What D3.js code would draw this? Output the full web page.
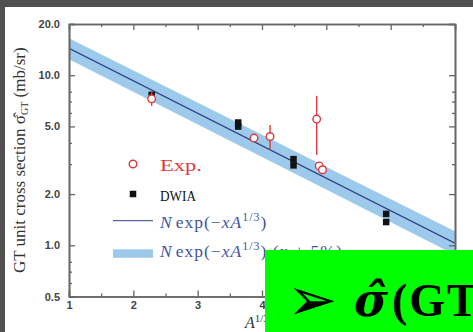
<!DOCTYPE html>
<html>
<head>
<meta charset="utf-8">
<script src="https://cdn.jsdelivr.net/npm/d3@7"></script>
<style>
  body { margin: 0; background: #fff; }
  svg { display: block; }
</style>
</head>
<body>
<div id="chart"></div>
<script>
// experimental points (A^1/3, sigma_GT mb/sr) with error bars
const expX  = [2.285, 3.876, 4.125, 4.85, 4.89, 4.94];
const expY  = [7.26, 4.27, 4.36, 5.52, 2.93, 2.78];
const expLo = [6.6, 4.15, 3.65, 3.4, 2.8, 2.7];
const expHi = [8.1, 4.4, 5.1, 7.56, 3.05, 2.85];

// DWIA points
const dwiaX = [2.285, 3.63, 3.63, 4.49, 4.49, 5.93, 5.93];
const dwiaY = [7.66, 5.27, 4.99, 3.21, 2.95, 1.53, 1.37];

// fit line N exp(-x A^1/3) and its band, read at the ends of the frame
const fitX    = [1, 7];
const fitY    = [14.4, 1.03];
const bandTop = [16.5, 1.21];
const bandBot = [12.4, 0.88];

const yTicks      = [0.5, 1, 2, 5, 10, 20];
const yMinorTicks = [0.6, 0.7, 0.8, 3, 4, 6, 7, 8];
const xTicks      = [1, 2, 3, 4, 5, 6, 7];
const xMinorTicks = [1.5, 2.5, 3.5, 4.5, 5.5, 6.5];

const width = 473, height = 332;
const margin = {top: 24, right: 18, bottom: 35.5, left: 69};

const svg = d3.select("#chart").append("svg")
    .attr("width", width)
    .attr("height", height)
    .attr("viewBox", [0, 0, width, height]);

// dark slide frame
svg.append("rect").attr("width", width).attr("height", height).attr("fill", "#505050");
svg.append("rect").attr("x", 5).attr("y", 7).attr("width", width - 5).attr("height", height - 7).attr("fill", "#fff");

const x = d3.scaleLinear()
    .domain([1, 7])
    .range([margin.left, width - margin.right]);

const y = d3.scaleLog()
    .domain([0.5, 20])
    .range([height - margin.bottom, margin.top]);

svg.append("clipPath").attr("id", "plot")
  .append("rect")
    .attr("x", margin.left).attr("y", margin.top)
    .attr("width", x(7) - x(1)).attr("height", y(0.5) - y(20));

const plot = svg.append("g").attr("clip-path", "url(#plot)");

// band
const bandData = fitX.map((d, i) => ({x: d, lo: bandBot[i], hi: bandTop[i]}));
plot.append("path")
    .datum(bandData)
    .attr("fill", "#9dcaea")
    .attr("d", d3.area().x(d => x(d.x)).y0(d => y(d.lo)).y1(d => y(d.hi)));

// fit line
plot.append("path")
    .datum(fitX.map((d, i) => ({x: d, y: fitY[i]})))
    .attr("fill", "none")
    .attr("stroke", "#2b3b85")
    .attr("stroke-width", 1.2)
    .attr("d", d3.line().x(d => x(d.x)).y(d => y(d.y)));

// DWIA squares
const sq = 6.5;
svg.append("g")
    .attr("fill", "#111")
  .selectAll("rect")
  .data(dwiaX.map((d, i) => ({x: d, y: dwiaY[i]})))
  .join("rect")
    .attr("x", d => x(d.x) - sq / 2)
    .attr("y", d => y(d.y) - sq / 2)
    .attr("width", sq)
    .attr("height", sq);

// experimental points
const expData = expX.map((d, i) => ({x: d, y: expY[i], lo: expLo[i], hi: expHi[i]}));
const expG = svg.append("g").attr("stroke", "#e0393b").attr("stroke-width", 1.4);
expG.selectAll("line")
  .data(expData)
  .join("line")
    .attr("x1", d => x(d.x)).attr("x2", d => x(d.x))
    .attr("y1", d => y(d.lo)).attr("y2", d => y(d.hi));
expG.selectAll("circle")
  .data(expData)
  .join("circle")
    .attr("cx", d => x(d.x))
    .attr("cy", d => y(d.y))
    .attr("r", 3.8)
    .attr("fill", "#fff");

// axes, ticks pointing inwards
const axisColor = "#666";
const tickFont = g => g.selectAll("text")
    .attr("fill", "#444")
    .style("font-family", "Liberation Sans, Arial, sans-serif")
    .style("font-weight", "bold")
    .style("font-size", "11px");

const styleAxis = g => {
  g.select(".domain").attr("stroke", axisColor).attr("stroke-width", 1.6);
  g.selectAll(".tick line").attr("stroke", axisColor).attr("stroke-width", 1.3);
};

svg.append("g")
    .attr("transform", `translate(${margin.left},0)`)
    .call(d3.axisLeft(y).tickValues(yTicks).tickFormat(d3.format(".1f")).tickSize(-6).tickPadding(9))
    .call(styleAxis).call(tickFont);
svg.append("g")
    .attr("transform", `translate(${margin.left},0)`)
    .call(d3.axisLeft(y).tickValues(yMinorTicks).tickFormat("").tickSize(-3).tickSizeOuter(0))
    .call(styleAxis);
svg.append("g")
    .attr("transform", `translate(${x(7)},0)`)
    .call(d3.axisRight(y).tickValues(yTicks).tickFormat("").tickSize(-6))
    .call(styleAxis);
svg.append("g")
    .attr("transform", `translate(${x(7)},0)`)
    .call(d3.axisRight(y).tickValues(yMinorTicks).tickFormat("").tickSize(-3).tickSizeOuter(0))
    .call(styleAxis);

// labels 5..7 sit under the green box, so only 1..4 are written
svg.append("g")
    .attr("transform", `translate(0,${y(0.5)})`)
    .call(d3.axisBottom(x).tickValues(xTicks).tickFormat(d => d <= 4 ? d : "").tickSize(-6).tickPadding(5))
    .call(styleAxis).call(tickFont);
svg.append("g")
    .attr("transform", `translate(0,${y(0.5)})`)
    .call(d3.axisBottom(x).tickValues(xMinorTicks).tickFormat("").tickSize(-3).tickSizeOuter(0))
    .call(styleAxis);
svg.append("g")
    .attr("transform", `translate(0,${y(20)})`)
    .call(d3.axisTop(x).tickValues(xTicks).tickFormat("").tickSize(-6))
    .call(styleAxis);
svg.append("g")
    .attr("transform", `translate(0,${y(20)})`)
    .call(d3.axisTop(x).tickValues(xMinorTicks).tickFormat("").tickSize(-3).tickSizeOuter(0))
    .call(styleAxis);

const serif = "Liberation Serif, Times New Roman, serif";

// y title
const yTitle = svg.append("text")
    .attr("transform", `translate(25,${(y(0.5) + y(20)) / 2}) rotate(-90)`)
    .attr("text-anchor", "middle")
    .attr("fill", "#333")
    .style("font-family", serif)
    .style("font-size", "17px");
yTitle.append("tspan").text("GT unit cross section σ\u0302");
yTitle.append("tspan").attr("dy", 3).style("font-size", "10px").text("GT");
yTitle.append("tspan").attr("dy", -3).text(" (mb/sr)");

// x title
const xTitle = svg.append("text")
    .attr("x", 245).attr("y", 328)
    .attr("fill", "#333")
    .style("font-family", serif)
    .style("font-size", "16px");
xTitle.append("tspan").style("font-style", "italic").text("A");
xTitle.append("tspan").attr("dy", -6).style("font-size", "11px").text("1/3");

// legend
const fnColor = "#44559e";
svg.append("circle").attr("cx", 133).attr("cy", 164).attr("r", 3.8)
    .attr("fill", "#fff").attr("stroke", "#e0393b").attr("stroke-width", 1.4);
svg.append("text").attr("x", 160).attr("y", 171)
    .attr("fill", "#e0393b").attr("textLength", 42).attr("lengthAdjust", "spacingAndGlyphs")
    .style("font-family", serif).style("font-size", "16px").text("Exp.");

svg.append("rect").attr("x", 133 - sq / 2).attr("y", 194 - sq / 2)
    .attr("width", sq).attr("height", sq).attr("fill", "#111");
svg.append("text").attr("x", 160).attr("y", 200.5)
    .attr("fill", "#111").attr("textLength", 36).attr("lengthAdjust", "spacingAndGlyphs")
    .style("font-family", serif).style("font-size", "15px").text("DWIA");

svg.append("line").attr("x1", 113).attr("x2", 153).attr("y1", 220.7).attr("y2", 220.7)
    .attr("stroke", "#5566a8").attr("stroke-width", 1.2);
svg.append("rect").attr("x", 113).attr("y", 249.3).attr("width", 40).attr("height", 8.5)
    .attr("fill", "#9dcaea");

const fnLabel = (yy, extra) => {
  const t = svg.append("text").attr("x", 160).attr("y", yy)
      .attr("fill", fnColor)
      .style("font-family", serif).style("font-size", "17.5px")
      .style("letter-spacing", "1px");
  t.append("tspan").style("font-style", "italic").text("N");
  t.append("tspan").attr("dx", 3).text("exp(\u2212");
  t.append("tspan").style("font-style", "italic").text("xA");
  t.append("tspan").attr("dy", -7).style("font-size", "12px").text("1/3");
  t.append("tspan").attr("dy", 7).text(")" + extra);
};
fnLabel(227.5, "");
fnLabel(256.5, "    (x \u00b1 5%)");

// green slide box on top
svg.append("rect").attr("x", 265).attr("y", 250).attr("width", width - 265).attr("height", height - 250)
    .attr("fill", "#00ff00");
svg.append("text").attr("x", 287).attr("y", 320)
    .attr("fill", "#000")
    .style("font-family", "DejaVu Sans, sans-serif").style("font-size", "60px")
    .text("\u27a2");
const head = svg.append("text").attr("x", 354).attr("y", 316)
    .attr("fill", "#000")
    .style("font-weight", "bold").style("font-size", "46px");
head.append("tspan")
    .style("font-family", "DejaVu Serif, serif").style("font-style", "italic")
    .text("σ\u0302");
head.append("tspan").attr("dx", 4)
    .style("font-family", serif).style("letter-spacing", "2px")
    .text("(GT");
</script>
</body>
</html>
